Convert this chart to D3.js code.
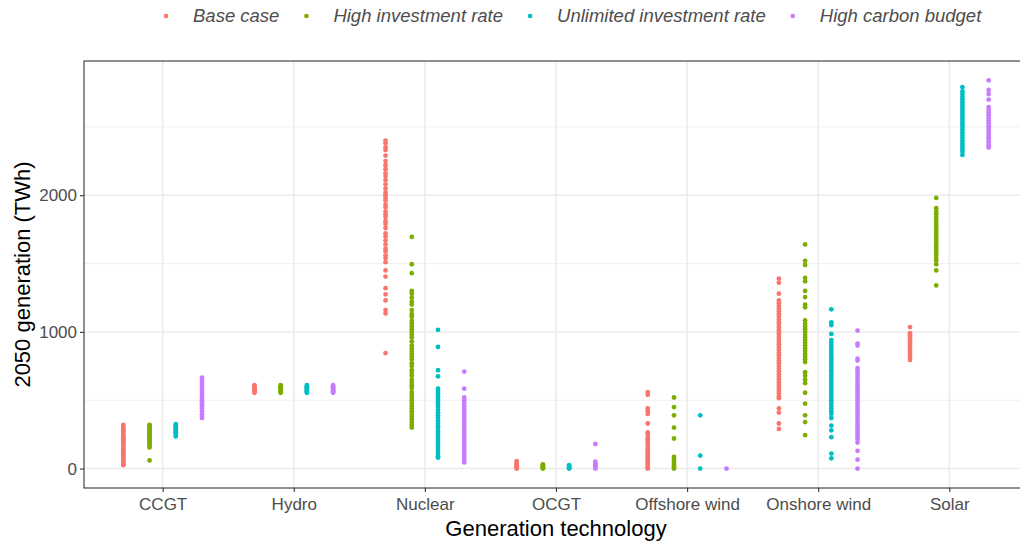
<!DOCTYPE html>
<html><head><meta charset="utf-8">
<script src="https://cdn.jsdelivr.net/npm/d3@7"></script>
<style>body{margin:0;background:#fff}svg{display:block;font-family:"Liberation Sans",Arial,sans-serif}</style>
</head><body><svg id="c" width="1020" height="544"></svg>
<script>
const categories = ["CCGT","Hydro","Nuclear","OCGT","Offshore wind","Onshore wind","Solar"];
const seriesNames = ["Base case","High investment rate","Unlimited investment rate","High carbon budget"];
const seriesColors = ["#F8766D","#7CAE00","#00BFC4","#C77CFF"];
const yTicks = [0,1000,2000];
const yMinor = [500,1500,2500];

// values per category, in category order
const baseCase = [
  [320,305,290,280,270,255,245,235,225,215,205,195,185,175,165,150,140,130,118,105,95,85,72,60,50,40,30,25],
  [610,600,595,590,580,575,565,560,555],
  [2400,2380,2350,2330,2290,2250,2220,2190,2160,2140,2110,2080,2050,2020,2000,1980,1960,1930,1910,1880,1860,1840,1810,1790,1760,1720,1700,1670,1640,1610,1590,1560,1540,1510,1450,1405,1320,1275,1230,1160,1135,845],
  [55,45,35,25,15,8,3,0],
  [560,540,440,420,400,330,265,250,230,215,200,185,170,150,135,120,105,90,75,60,45,30,15,5,0],
  [1390,1360,1280,1230,1210,1190,1170,1150,1130,1110,1090,1070,1050,1030,1010,990,970,950,930,910,890,870,850,830,810,790,770,750,730,710,690,670,650,630,610,590,570,550,530,515,440,410,330,290],
  [1035,990,975,960,945,930,915,900,885,870,855,840,825,810,795]
];
const highInvestment = [
  [320,310,300,290,280,270,262,252,240,230,220,210,200,190,180,165,155,60],
  [610,600,595,590,580,575,565,560,555],
  [1695,1495,1430,1300,1280,1250,1220,1200,1160,1130,1110,1080,1060,1040,1020,1000,980,960,930,900,880,860,840,820,800,770,750,720,700,680,650,630,610,590,560,540,520,500,480,460,440,420,400,380,360,340,320,300],
  [30,25,20,14,8,3,0],
  [520,450,390,300,220,85,70,55,40,25,10,0],
  [1640,1520,1490,1395,1370,1300,1255,1200,1180,1085,1060,1040,1020,1000,980,960,940,920,900,880,860,840,820,800,780,705,680,650,625,555,475,390,340,245],
  [1980,1905,1880,1860,1840,1820,1800,1780,1760,1740,1720,1700,1680,1660,1640,1620,1600,1580,1560,1540,1525,1495,1450,1340]
];
const unlimitedInvestment = [
  [325,315,305,295,285,275,265,255,245,235],
  [610,600,595,590,580,575,565,560,555],
  [1015,890,720,675,585,570,550,530,510,490,470,450,430,410,390,370,350,330,310,290,270,250,230,210,190,170,150,130,110,90,80],
  [25,20,14,8,3,0],
  [390,95,0],
  [1165,1070,1050,985,940,920,900,880,860,840,820,800,780,760,740,720,700,680,660,640,620,600,580,560,540,520,500,480,460,440,420,400,370,315,280,230,110,75],
  [2790,2760,2740,2720,2700,2680,2660,2640,2620,2600,2580,2560,2540,2520,2500,2480,2460,2440,2420,2400,2380,2360,2340,2320,2295]
];
const highCarbon = [
  [665,650,635,620,605,590,575,560,545,530,515,500,485,470,455,440,420,395,385,370],
  [610,600,595,590,580,575,565,560,555],
  [710,585,520,500,480,460,440,420,400,380,360,340,320,300,280,260,240,220,200,180,160,140,120,100,80,60,45],
  [180,50,40,30,20,12,5,0],
  [0],
  [1010,915,900,805,790,735,715,695,675,655,635,615,595,575,555,535,515,495,475,455,435,415,395,375,355,335,315,295,275,255,235,215,190,130,65,0],
  [2840,2770,2740,2700,2645,2625,2605,2585,2565,2545,2525,2505,2485,2465,2445,2425,2405,2385,2365,2350]
];
const allSeries = [baseCase, highInvestment, unlimitedInvestment, highCarbon];

const svg = d3.select("#c");
const L = 84, R = 1028, T = 61, B = 488;

const x = d3.scalePoint().domain(categories).range([L, R]).padding(0.6);
const step = x.step();
const dodge = d3.scaleBand().domain(seriesNames).range([-0.4*step, 0.4*step]);
const y = d3.scaleLinear().domain([-142, 2982]).range([B, T]);
const color = d3.scaleOrdinal().domain(seriesNames).range(seriesColors);

const g = svg.append("g");
// minor grid
g.selectAll(".ymin").data(yMinor).join("line")
  .attr("x1", L).attr("x2", R).attr("y1", d=>y(d)).attr("y2", d=>y(d))
  .attr("stroke", "#ebebeb").attr("stroke-width", 0.8);
// major grid
g.selectAll(".ymaj").data(yTicks).join("line")
  .attr("x1", L).attr("x2", R).attr("y1", d=>y(d)).attr("y2", d=>y(d))
  .attr("stroke", "#ebebeb").attr("stroke-width", 1.5);
g.selectAll(".xmaj").data(categories).join("line")
  .attr("x1", d=>x(d)).attr("x2", d=>x(d)).attr("y1", T).attr("y2", B)
  .attr("stroke", "#ebebeb").attr("stroke-width", 1.5);

// points
const pts = [];
allSeries.forEach((s, si) => s.forEach((vals, ci) => vals.forEach(v => pts.push({s: seriesNames[si], c: categories[ci], v}))));
g.selectAll("circle.pt").data(pts).join("circle")
  .attr("cx", d => x(d.c) + dodge(d.s) + dodge.bandwidth()/2)
  .attr("cy", d => y(d.v))
  .attr("r", 2.4)
  .attr("fill", d => color(d.s));

// panel border
svg.append("rect").attr("x", L).attr("y", T).attr("width", R-L).attr("height", B-T)
  .attr("fill", "none").attr("stroke", "#333").attr("stroke-width", 1.1);

// axes
const yAxis = svg.append("g").attr("transform", `translate(${L},0)`)
  .call(d3.axisLeft(y).tickValues(yTicks).tickSize(4).tickPadding(3).tickFormat(d3.format("d")));
const xAxis = svg.append("g").attr("transform", `translate(0,${B})`)
  .call(d3.axisBottom(x).tickSize(4).tickPadding(6));
[yAxis, xAxis].forEach(a => {
  a.select(".domain").remove();
  a.selectAll(".tick line").attr("stroke", "#333").attr("stroke-width", 1.1);
  a.selectAll(".tick text").attr("fill", "#4d4d4d").style("font-size", "17px").style("font-family", "'Liberation Sans', Arial, sans-serif");
});

// axis titles
svg.append("text").attr("x", 556).attr("y", 536).attr("text-anchor", "middle")
  .style("font-size", "22px").attr("fill", "#000").text("Generation technology");
svg.append("text").attr("transform", `translate(30,${(T+B)/2}) rotate(-90)`).attr("text-anchor", "middle")
  .style("font-size", "22px").attr("fill", "#000").text("2050 generation (TWh)");

// legend
const leg = svg.append("g");
let lx = 166;
seriesNames.forEach((n, i) => {
  leg.append("circle").attr("cx", lx).attr("cy", 16).attr("r", 2.3).attr("fill", seriesColors[i]);
  const t = leg.append("text").attr("x", lx + 27).attr("y", 22).style("font-size", "18.5px")
    .style("font-style", "italic").attr("fill", "#4d4d4d").text(n);
  lx = lx + 27 + t.node().getComputedTextLength() + 27;
});
</script></body></html>
